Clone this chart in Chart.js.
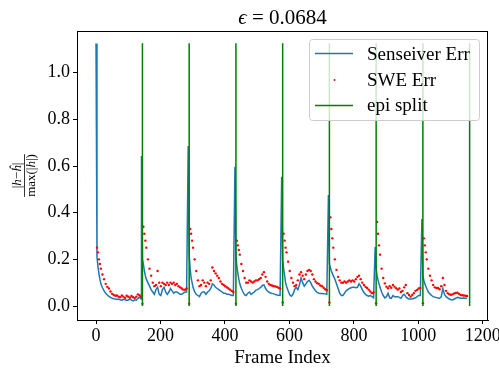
<!DOCTYPE html>
<html>
<head>
<meta charset="utf-8">
<title>Senseiver vs SWE error</title>
<script src="https://cdn.jsdelivr.net/npm/chart.js@4.4.1/dist/chart.umd.min.js"></script>
<style>
  body { margin: 0; background: white; }
</style>
</head>
<body>
<canvas id="myChart" width="499" height="369"></canvas>
<script>
// episode layout (frame index)
var episodeStarts = [0, 141, 286, 431, 576, 721, 866, 1011];
var epiSplits = [144, 289, 434, 579, 724, 869, 1014, 1159];
var splitRange = [0, 1.126];
var offsets = [0, 3, 6, 9, 12, 15, 20, 25, 30, 35, 40, 45, 50, 55, 60, 65, 70, 75, 80, 85, 90, 95, 100, 105, 110, 115, 120, 125, 130, 135, 140];

// Senseiver Err, one row per episode (values at the offsets above)
var senseiverErr = [
  [1.125, 0.21, 0.17, 0.14, 0.115, 0.095, 0.078, 0.065, 0.055, 0.047, 0.041, 0.037, 0.033, 0.031, 0.03, 0.028, 0.03, 0.027, 0.025, 0.029, 0.027, 0.024, 0.026, 0.03, 0.025, 0.022, 0.027, 0.025, 0.033, 0.038, 0.03],
  [0.643, 0.2, 0.18, 0.15, 0.13, 0.115, 0.1, 0.085, 0.07, 0.06, 0.05, 0.07, 0.08, 0.05, 0.045, 0.07, 0.08, 0.06, 0.05, 0.06, 0.075, 0.065, 0.055, 0.06, 0.06, 0.055, 0.05, 0.05, 0.055, 0.06, 0.06],
  [0.686, 0.22, 0.16, 0.12, 0.1, 0.08, 0.06, 0.05, 0.045, 0.04, 0.055, 0.06, 0.06, 0.05, 0.06, 0.065, 0.075, 0.095, 0.09, 0.08, 0.075, 0.07, 0.065, 0.06, 0.055, 0.055, 0.05, 0.05, 0.048, 0.045, 0.045],
  [0.597, 0.21, 0.17, 0.14, 0.115, 0.095, 0.075, 0.06, 0.048, 0.045, 0.055, 0.06, 0.05, 0.055, 0.06, 0.068, 0.07, 0.075, 0.08, 0.088, 0.09, 0.075, 0.065, 0.06, 0.056, 0.054, 0.052, 0.05, 0.047, 0.046, 0.045],
  [0.554, 0.2, 0.16, 0.13, 0.1, 0.085, 0.065, 0.048, 0.042, 0.05, 0.07, 0.08, 0.07, 0.09, 0.12, 0.1, 0.085, 0.095, 0.105, 0.11, 0.1, 0.085, 0.075, 0.065, 0.058, 0.055, 0.054, 0.054, 0.053, 0.052, 0.05],
  [0.476, 0.18, 0.165, 0.15, 0.14, 0.13, 0.115, 0.095, 0.075, 0.055, 0.045, 0.045, 0.055, 0.065, 0.07, 0.075, 0.078, 0.08, 0.08, 0.078, 0.08, 0.095, 0.085, 0.07, 0.058, 0.05, 0.045, 0.042, 0.045, 0.04, 0.035],
  [0.253, 0.16, 0.13, 0.11, 0.095, 0.08, 0.06, 0.045, 0.035, 0.04, 0.055, 0.035, 0.033, 0.045, 0.04, 0.04, 0.04, 0.037, 0.033, 0.045, 0.05, 0.04, 0.033, 0.03, 0.03, 0.03, 0.033, 0.035, 0.04, 0.045, 0.045],
  [0.373, 0.13, 0.11, 0.095, 0.085, 0.075, 0.06, 0.052, 0.045, 0.04, 0.038, 0.036, 0.034, 0.033, 0.04, 0.075, 0.05, 0.04, 0.035, 0.03, 0.027, 0.026, 0.03, 0.033, 0.037, 0.035, 0.033, 0.033, 0.034, 0.033, 0.033]
];

// SWE Err, same layout
var sweErr = [
  [null, 0.25, 0.23, 0.2, 0.18, 0.16, 0.135, 0.115, 0.095, 0.082, 0.075, 0.062, 0.052, 0.047, 0.044, 0.045, 0.04, 0.038, 0.045, 0.04, 0.035, 0.044, 0.04, 0.036, 0.043, 0.038, 0.034, 0.04, 0.05, 0.046, 0.04],
  [null, 0.01, 0.34, 0.31, 0.28, 0.25, 0.2, 0.16, 0.13, 0.1, 0.085, 0.09, 0.15, 0.1, 0.085, 0.1, 0.095, 0.09, 0.1, 0.09, 0.1, 0.095, 0.1, 0.09, 0.095, 0.085, 0.08, 0.075, 0.07, 0.07, 0.075],
  [null, 0.01, 0.33, 0.31, 0.28, 0.25, 0.2, 0.15, 0.11, 0.085, 0.09, 0.11, 0.1, 0.085, 0.1, 0.095, 0.11, 0.165, 0.15, 0.14, 0.13, 0.12, 0.105, 0.095, 0.09, 0.085, 0.08, 0.075, 0.07, 0.065, 0.06],
  [null, 0.01, 0.28, 0.26, 0.24, 0.22, 0.18, 0.15, 0.12, 0.1, 0.1, 0.11, 0.105, 0.1, 0.105, 0.11, 0.11, 0.115, 0.12, 0.135, 0.145, 0.125, 0.105, 0.095, 0.09, 0.088, 0.085, 0.084, 0.082, 0.078, 0.075],
  [null, 0.015, 0.31, 0.28, 0.25, 0.23, 0.19, 0.15, 0.12, 0.1, 0.085, 0.09, 0.11, 0.135, 0.145, 0.13, 0.115, 0.135, 0.15, 0.155, 0.15, 0.135, 0.115, 0.105, 0.098, 0.095, 0.088, 0.085, 0.078, 0.072, 0.068],
  [null, 0.015, 0.38, 0.33, 0.29, 0.25, 0.2, 0.155, 0.125, 0.11, 0.1, 0.1, 0.105, 0.1, 0.105, 0.11, 0.105, 0.11, 0.105, 0.115, 0.125, 0.13, 0.115, 0.1, 0.09, 0.082, 0.077, 0.07, 0.062, 0.055, 0.058],
  [null, 0.012, 0.36, 0.31, 0.26, 0.22, 0.16, 0.12, 0.097, 0.083, 0.076, 0.085, 0.078, 0.09, 0.083, 0.076, 0.07, 0.075, 0.06, 0.065, 0.08, 0.09, 0.055, 0.047, 0.04, 0.047, 0.055, 0.065, 0.069, 0.075, 0.077],
  [null, 0.012, 0.29, 0.26, 0.23, 0.2, 0.16, 0.13, 0.11, 0.09, 0.08, 0.077, 0.077, 0.072, 0.085, 0.12, 0.09, 0.065, 0.055, 0.05, 0.048, 0.05, 0.054, 0.056, 0.057, 0.052, 0.047, 0.046, 0.045, 0.044, 0.043]
];

var xTicks = [0, 200, 400, 600, 800, 1000, 1200];
var yTicks = [0, 0.2, 0.4, 0.6, 0.8, 1.0];

var senseiverData = [];
var sweData = [];
var splitData = [];
for (var e = 0; e < episodeStarts.length; e++) {
  for (var i = 0; i < offsets.length; i++) {
    var f = episodeStarts[e] + offsets[i];
    senseiverData.push({x: f, y: senseiverErr[e][i]});
    if (sweErr[e][i] !== null) sweData.push({x: f, y: sweErr[e][i]});
  }
}
epiSplits.forEach(function(s) {
  splitData.push({x: s, y: splitRange[0]}, {x: s, y: splitRange[1]}, {x: s, y: null});
});

var serif = '"Liberation Serif", "DejaVu Serif", serif';

// draw a row of text pieces, [text, italic]
function drawPieces(c, pieces, x, y, size) {
  var widths = [], total = 0;
  pieces.forEach(function(p) {
    c.font = (p[1] ? 'italic ' : '') + size + 'px ' + serif;
    var w = c.measureText(p[0]).width;
    widths.push(w);
    total += w;
  });
  var cx = x - total / 2;
  pieces.forEach(function(p, k) {
    c.font = (p[1] ? 'italic ' : '') + size + 'px ' + serif;
    c.fillText(p[0], cx, y);
    cx += widths[k];
  });
  return total;
}

var decorations = {
  id: 'decorations',
  afterDraw: function(chart) {
    var c = chart.ctx;
    var a = chart.chartArea;
    c.save();
    // axes frame
    c.strokeStyle = '#000';
    c.lineWidth = 1;
    c.strokeRect(Math.round(a.left) + 0.5, Math.round(a.top) + 0.5, Math.round(a.right - a.left) - 1, Math.round(a.bottom - a.top));

    c.fillStyle = '#000';
    c.textAlign = 'left';
    c.textBaseline = 'alphabetic';
    // title
    drawPieces(c, [['\u03f5', true], [' = 0.0684', false]], (a.left + a.right) / 2, 24, 21);
    // x label
    drawPieces(c, [['Frame Index', false]], (a.left + a.right) / 2, 362.5, 19);
    // y label (fraction)
    c.save();
    c.translate(24, (a.top + a.bottom) / 2);
    c.rotate(-Math.PI / 2);
    drawPieces(c, [['|', false], ['h', true], ['\u2212', false], ['\u0125', true], ['|', false]], 0, -3, 13);
    var dw = drawPieces(c, [['max(|', false], ['h', true], ['|)', false]], 0, 11, 13);
    c.beginPath();
    c.lineWidth = 0.8;
    c.moveTo(-dw / 2, 0.5);
    c.lineTo(dw / 2, 0.5);
    c.stroke();
    c.restore();

    // legend
    c.beginPath();
    if (c.roundRect) c.roundRect(309.5, 39.5, 170, 81, 3); else c.rect(309.5, 39.5, 170, 81);
    c.fillStyle = 'rgba(255,255,255,0.8)';
    c.fill();
    c.strokeStyle = '#cccccc';
    c.lineWidth = 1;
    c.stroke();

    c.lineWidth = 1.5;
    c.strokeStyle = '#1f77b4';
    c.beginPath(); c.moveTo(315, 53.5); c.lineTo(353, 53.5); c.stroke();
    c.fillStyle = 'red';
    c.beginPath(); c.arc(334.5, 80, 1, 0, Math.PI * 2); c.fill();
    c.strokeStyle = 'green';
    c.beginPath(); c.moveTo(315, 105.5); c.lineTo(353, 105.5); c.stroke();

    c.fillStyle = '#000';
    c.font = '19px ' + serif;
    c.fillText('Senseiver Err', 367, 59.5);
    c.fillText('SWE Err', 367, 85.5);
    c.fillText('epi split', 367, 110.5);
    c.restore();
  }
};

var tickFont = {family: 'Liberation Serif', size: 18};

var ctx = document.getElementById('myChart').getContext('2d');
var myChart = new Chart(ctx, {
  type: 'scatter',
  data: {
    datasets: [{
      label: 'Senseiver Err',
      data: senseiverData,
      showLine: true,
      borderColor: '#1f77b4',
      borderWidth: 1.5,
      pointRadius: 0,
      order: 3
    }, {
      label: 'SWE Err',
      data: sweData,
      showLine: false,
      pointRadius: 1.2,
      pointBorderWidth: 0,
      backgroundColor: 'red',
      borderColor: 'red',
      order: 2
    }, {
      label: 'epi split',
      data: splitData,
      showLine: true,
      spanGaps: false,
      borderColor: 'green',
      borderWidth: 1.5,
      pointRadius: 0,
      order: 1
    }]
  },
  options: {
    responsive: false,
    animation: false,
    events: [],
    layout: {padding: {left: 0, right: 11, top: 31, bottom: 0}},
    plugins: {
      legend: {display: false},
      tooltip: {enabled: false},
      title: {display: false}
    },
    scales: {
      x: {
        type: 'linear',
        min: -59,
        max: 1216,
        afterBuildTicks: function(s) { s.ticks = xTicks.map(function(v) { return {value: v}; }); },
        afterFit: function(s) { s.height = 49; s.paddingLeft = 0; s.paddingRight = 0; },
        grid: {drawOnChartArea: false, tickLength: 4, color: '#000'},
        border: {color: '#000', width: 1},
        ticks: {
          color: '#000', font: tickFont, padding: 1, maxRotation: 0, autoSkip: false,
          callback: function(v) { return String(v); }
        }
      },
      y: {
        type: 'linear',
        min: -0.06,
        max: 1.1787,
        afterBuildTicks: function(s) { s.ticks = yTicks.map(function(v) { return {value: v}; }); },
        afterFit: function(s) { s.width = 77; s.paddingTop = 0; s.paddingBottom = 0; },
        grid: {drawOnChartArea: false, tickLength: 4, color: '#000'},
        border: {color: '#000', width: 1},
        ticks: {
          color: '#000', font: tickFont, padding: 3, autoSkip: false,
          callback: function(v) { return v.toFixed(1); }
        }
      }
    }
  },
  plugins: [decorations]
});
</script>
</body>
</html>
